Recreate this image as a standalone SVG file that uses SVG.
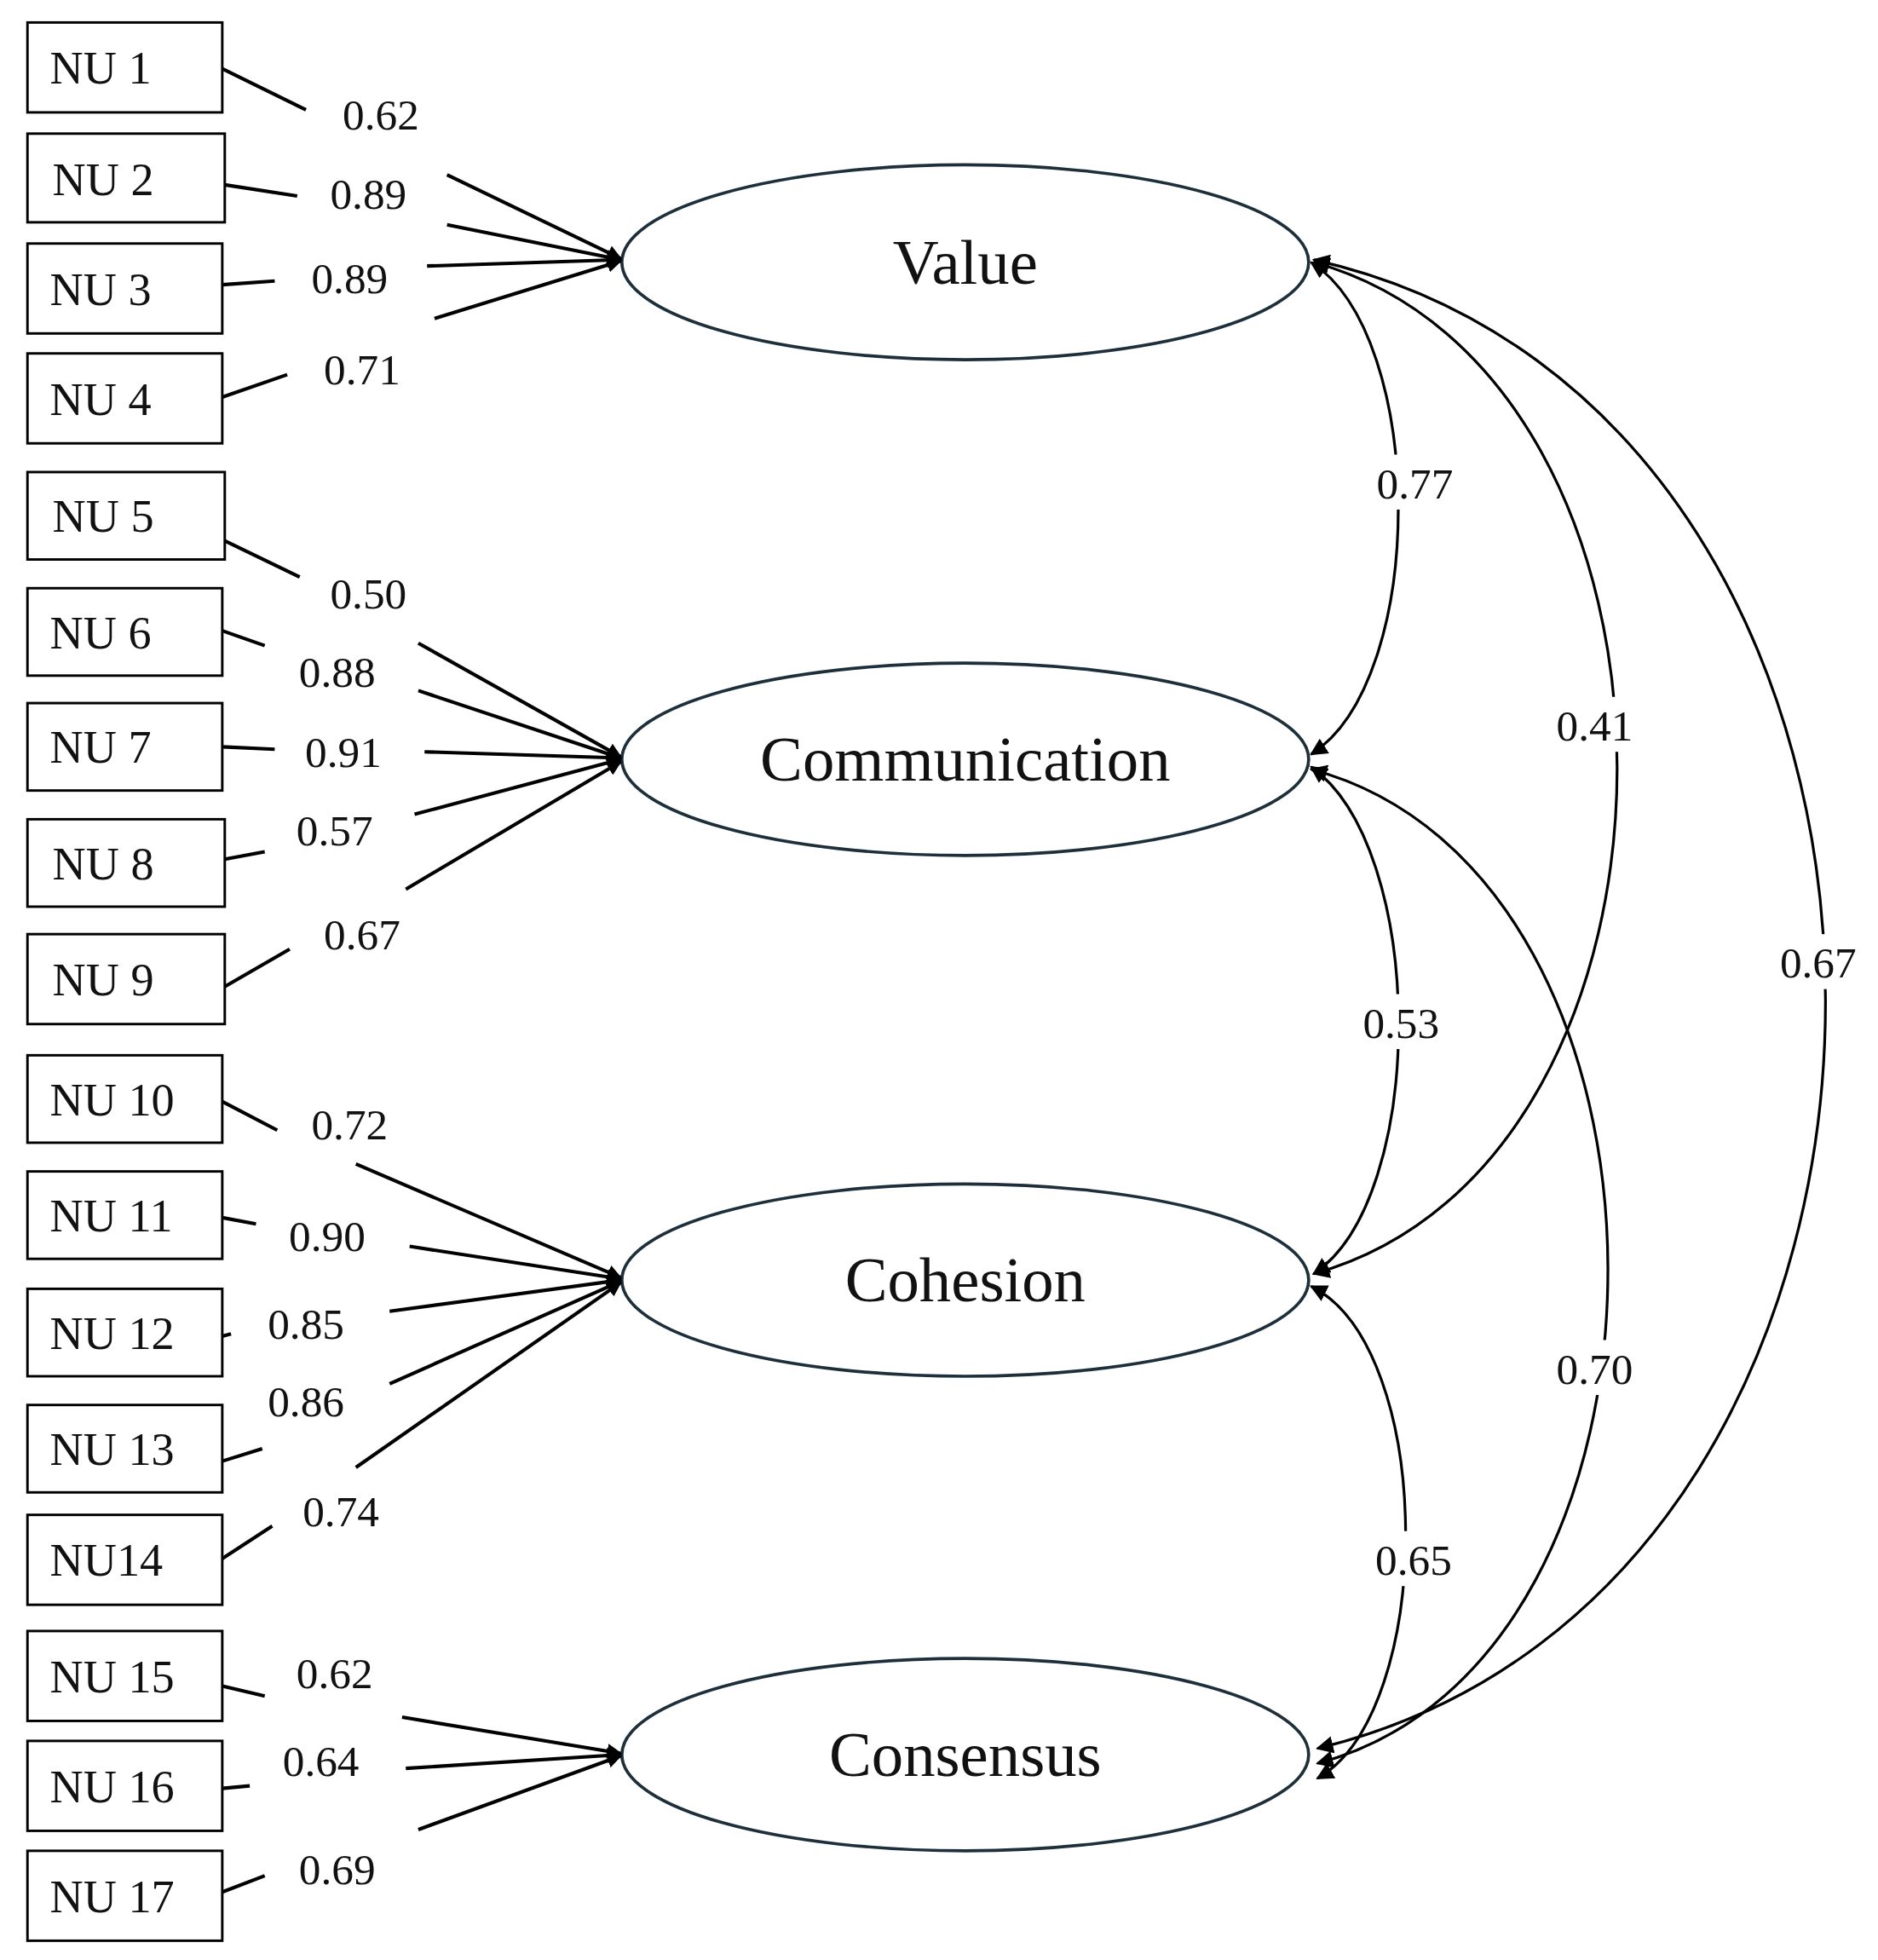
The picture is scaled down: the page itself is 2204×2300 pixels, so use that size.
<svg xmlns="http://www.w3.org/2000/svg" width="2204" height="2300" viewBox="0 0 2204 2300">
<style>
.box{fill:#fff;stroke:#000;stroke-width:2}
.bt{font-family:"Liberation Serif",serif;font-size:37px;fill:#111}
.el{fill:#fff;stroke:#1c2f3a;stroke-width:2.5}
.et{font-family:"Liberation Serif",serif;font-size:51px;fill:#111;text-anchor:middle}
.ln{stroke:#000;stroke-width:2.8;fill:none}
.arc{stroke:#000;stroke-width:2.2;fill:none;marker-start:url(#ah);marker-end:url(#ah)}
.ct{font-family:"Liberation Serif",serif;font-size:35px;fill:#111;text-anchor:middle}
</style>
<defs>
<marker id="ar" viewBox="0 0 10 10" refX="9" refY="5" markerWidth="12" markerHeight="12" orient="auto" markerUnits="userSpaceOnUse"><path d="M0,0L10,5L0,10z"/></marker>
<marker id="ah" viewBox="0 0 10 10" refX="9" refY="5" markerWidth="14" markerHeight="14" orient="auto-start-reverse" markerUnits="userSpaceOnUse"><path d="M0,0L10,5L0,10z"/></marker>
</defs>
<rect width="2204" height="2300" fill="#fff"/>
<g transform="scale(1.4655)">
<g id="items">
<g id="nu1"><rect class="box" x="22" y="18" width="156" height="72"/><text class="bt" x="40" y="67">NU 1</text></g>
<g id="nu2"><rect class="box" x="22" y="107" width="158" height="71"/><text class="bt" x="42" y="156">NU 2</text></g>
<g id="nu3"><rect class="box" x="22" y="195" width="156" height="72"/><text class="bt" x="40" y="244">NU 3</text></g>
<g id="nu4"><rect class="box" x="22" y="283" width="156" height="72"/><text class="bt" x="40" y="332">NU 4</text></g>
<g id="nu5"><rect class="box" x="22" y="378" width="158" height="70"/><text class="bt" x="42" y="426">NU 5</text></g>
<g id="nu6"><rect class="box" x="22" y="471" width="156" height="70"/><text class="bt" x="40" y="519">NU 6</text></g>
<g id="nu7"><rect class="box" x="22" y="563" width="156" height="70"/><text class="bt" x="40" y="611">NU 7</text></g>
<g id="nu8"><rect class="box" x="22" y="656" width="158" height="70"/><text class="bt" x="42" y="704">NU 8</text></g>
<g id="nu9"><rect class="box" x="22" y="748" width="158" height="72"/><text class="bt" x="42" y="797">NU 9</text></g>
<g id="nu10"><rect class="box" x="22" y="845" width="156" height="70"/><text class="bt" x="40" y="893">NU 10</text></g>
<g id="nu11"><rect class="box" x="22" y="938" width="156" height="70"/><text class="bt" x="40" y="986">NU 11</text></g>
<g id="nu12"><rect class="box" x="22" y="1032" width="156" height="70"/><text class="bt" x="40" y="1080">NU 12</text></g>
<g id="nu13"><rect class="box" x="22" y="1125" width="156" height="70"/><text class="bt" x="40" y="1173">NU 13</text></g>
<g id="nu14"><rect class="box" x="22" y="1213" width="156" height="72"/><text class="bt" x="40" y="1262">NU14</text></g>
<g id="nu15"><rect class="box" x="22" y="1306" width="156" height="72"/><text class="bt" x="40" y="1355">NU 15</text></g>
<g id="nu16"><rect class="box" x="22" y="1394" width="156" height="72"/><text class="bt" x="40" y="1443">NU 16</text></g>
<g id="nu17"><rect class="box" x="22" y="1482" width="156" height="72"/><text class="bt" x="40" y="1531">NU 17</text></g>
</g>
<g id="value"><ellipse class="el" cx="773" cy="210" rx="275" ry="78"/><text class="et" x="773" y="227">Value</text></g>
<g id="communication"><ellipse class="el" cx="773" cy="608" rx="275" ry="77"/><text class="et" x="773" y="625">Communication</text></g>
<g id="cohesion"><ellipse class="el" cx="773" cy="1025" rx="275" ry="77"/><text class="et" x="773" y="1042">Cohesion</text></g>
<g id="consensus"><ellipse class="el" cx="773" cy="1405" rx="275" ry="77"/><text class="et" x="773" y="1422">Consensus</text></g>
<g id="connectors">
<g stroke="#000" stroke-width="2.8" fill="none">
<path d="M178,55L245,88M180,148L238,157M178,228L220,225M178,318L230,300"/>
<path d="M180,433L240,462M178,505L212,517M178,598L220,600M180,688L212,682M180,790L232,760"/>
<path d="M178,882L222,905M178,975L205,980M178,1070L185,1068M178,1170L210,1160M178,1248L218,1222"/>
<path d="M178,1350L212,1358M178,1432L200,1430M178,1515L212,1502"/>
</g>
<g class="ln" marker-end="url(#ar)">
<path d="M358,140L497,207"/><path d="M358,180L497,208"/><path d="M342,213L497,208"/><path d="M348,255L497,209"/>
<path d="M335,515L497,606"/><path d="M335,553L497,607"/><path d="M340,602L497,607"/><path d="M332,652L497,608"/><path d="M325,712L497,610"/>
<path d="M285,932L497,1023"/><path d="M328,998L497,1024"/><path d="M312,1050L497,1025"/><path d="M312,1108L497,1026"/><path d="M285,1175L497,1027"/>
<path d="M322,1375L497,1404"/><path d="M325,1416L497,1405"/><path d="M335,1465L497,1406"/>
</g>
<path class="arc" d="M1050,210C1143,270 1143,545 1050,604"/>
<path class="arc" d="M1052,210C1376,300 1376,930 1052,1020"/>
<path class="arc" d="M1052,208C1598,330 1598,1270 1055,1400"/>
<path class="arc" d="M1050,614C1143,680 1143,960 1052,1020"/>
<path class="arc" d="M1050,616C1366,700 1366,1330 1055,1412"/>
<path class="arc" d="M1050,1030C1150,1080 1150,1370 1055,1424"/>
<g fill="#fff">
<rect x="1096" y="364" width="74" height="44"/><rect x="1240" y="558" width="74" height="44"/><rect x="1419" y="748" width="74" height="44"/>
<rect x="1085" y="796" width="74" height="44"/><rect x="1240" y="1073" width="74" height="44"/><rect x="1095" y="1226" width="74" height="44"/>
</g>
<text class="ct" x="1133" y="399">0.77</text><text class="ct" x="1277" y="593">0.41</text><text class="ct" x="1456" y="783">0.67</text>
<text class="ct" x="1122" y="831">0.53</text><text class="ct" x="1277" y="1108">0.70</text><text class="ct" x="1132" y="1261">0.65</text>
<g class="ct">
<text x="305" y="104">0.62</text><text x="295" y="167">0.89</text><text x="280" y="235">0.89</text><text x="290" y="308">0.71</text>
<text x="295" y="487">0.50</text><text x="270" y="550">0.88</text><text x="275" y="614">0.91</text><text x="268" y="677">0.57</text><text x="290" y="760">0.67</text>
<text x="280" y="912">0.72</text><text x="262" y="1002">0.90</text><text x="245" y="1072">0.85</text><text x="245" y="1134">0.86</text><text x="273" y="1222">0.74</text>
<text x="268" y="1352">0.62</text><text x="257" y="1422">0.64</text><text x="270" y="1509">0.69</text>
</g>
</g>
</g>
</svg>
